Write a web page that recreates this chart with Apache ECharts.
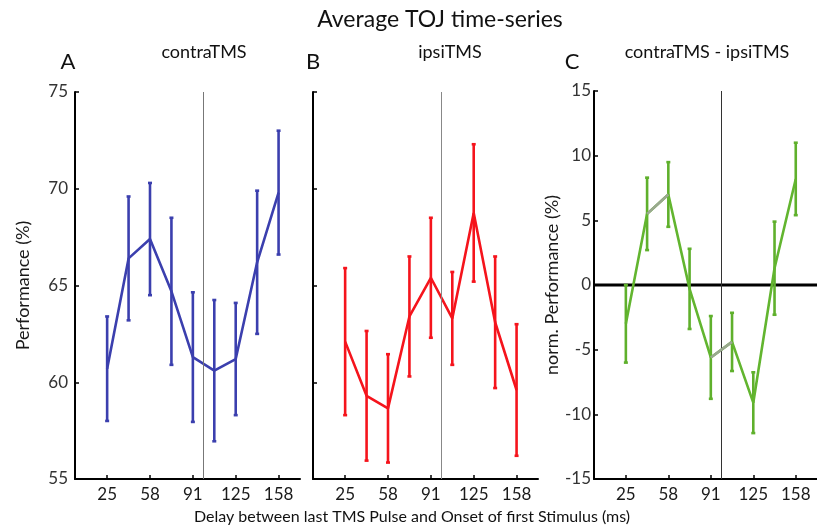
<!DOCTYPE html>
<html>
<head>
<meta charset="utf-8">
<script src="https://cdn.jsdelivr.net/npm/echarts@6/dist/echarts.min.js"></script>
<style>html,body{margin:0;padding:0;background:#fff}#c{width:817px;height:529px}</style>
</head>
<body>
<div id="c"></div>
<script>
// ---- data ----
const delays = [25, 41.67, 58.33, 75, 91.67, 108.33, 125, 141.67, 158.33];
const tickValues = [25, 58.33, 91.67, 125, 158.33];
const tickLabels = ["25", "58", "91", "125", "158"];
const contraMean = [60.7, 66.4, 67.4, 64.7, 61.3, 60.6, 61.2, 66.2, 69.8];
const contraErr  = [2.7, 3.2, 2.9, 3.8, 3.35, 3.65, 2.9, 3.7, 3.2];
const ipsiMean   = [62.1, 59.3, 58.65, 63.4, 65.4, 63.3, 68.75, 63.1, 59.6];
const ipsiErr    = [3.8, 3.35, 2.8, 3.1, 3.1, 2.4, 3.55, 3.4, 3.4];
const diffMean   = [-3.0, 5.5, 7.0, -0.3, -5.6, -4.4, -9.1, 1.3, 8.2];
const diffErr    = [3.0, 2.8, 2.5, 3.1, 3.2, 2.25, 2.35, 3.6, 2.8];
const graySegments = [[1, 2], [4, 5]]; // index pairs drawn gray in panel C
const pulseTime = 100;

const FONT = 'Lato';
const chart = echarts.init(document.getElementById('c'));

function pairs(means) { return delays.map((d, i) => [d, means[i]]); }
function errData(means, errs) { return delays.map((d, i) => [d, means[i] - errs[i], means[i] + errs[i]]); }

function errSeries(idx, means, errs, color) {
  return {
    type: 'custom', xAxisIndex: idx, yAxisIndex: idx, z: 3,
    data: errData(means, errs),
    renderItem: function (params, api) {
      const lo = api.coord([api.value(0), api.value(1)]);
      const hi = api.coord([api.value(0), api.value(2)]);
      const cw = 2;
      const st = { stroke: color, lineWidth: 2.6 };
      return { type: 'group', children: [
        { type: 'line', shape: { x1: lo[0], y1: lo[1], x2: hi[0], y2: hi[1] }, style: st },
        { type: 'line', shape: { x1: lo[0] - cw, y1: lo[1], x2: lo[0] + cw, y2: lo[1] }, style: st },
        { type: 'line', shape: { x1: hi[0] - cw, y1: hi[1], x2: hi[0] + cw, y2: hi[1] }, style: st }
      ]};
    }
  };
}

function lineSeries(idx, means, color, vlineColor) {
  return {
    type: 'line', xAxisIndex: idx, yAxisIndex: idx, z: 4,
    data: pairs(means), symbol: 'none', lineStyle: { color: color, width: 2.6 },
    markLine: { silent: true, symbol: 'none', label: { show: false },
      lineStyle: { color: vlineColor, width: 1, type: 'solid' },
      data: [{ xAxis: pulseTime }] }
  };
}

const grids = [
  { left: 75, top: 92, width: 225, height: 387 },
  { left: 313, top: 92, width: 225, height: 387 },
  { left: 594, top: 91, width: 225, height: 388 }
];

const xAxes = grids.map((g, i) => ({
  type: 'value', gridIndex: i, min: 0, max: 175,
  axisLine: { onZero: false, lineStyle: { color: '#000', width: 2 } },
  splitLine: { show: false },
  axisTick: { inside: true, length: 4, lineStyle: { color: '#000', width: 1.5 }, customValues: tickValues },
  axisLabel: { customValues: tickValues, color: '#1a1a1a', fontFamily: FONT, fontSize: 17, margin: 7,
    formatter: v => tickLabels[tickValues.findIndex(t => Math.abs(t - v) < 0.5)] }
}));

const yBase = {
  type: 'value', splitLine: { show: false },
  axisLine: { onZero: false, lineStyle: { color: '#000', width: 2 } },
  axisTick: { inside: true, length: 4, lineStyle: { color: '#000', width: 1.5 } },
  nameLocation: 'middle', nameTextStyle: { color: '#1a1a1a', fontFamily: FONT, fontSize: 18 }
};
const yAxes = [
  Object.assign({}, yBase, { gridIndex: 0, min: 55, max: 75, interval: 5, name: 'Performance (%)', nameGap: 43,
    axisLabel: { color: '#333', fontFamily: FONT, fontSize: 17, margin: 7 } }),
  Object.assign({}, yBase, { gridIndex: 1, min: 55, max: 75, interval: 5, axisLabel: { show: false } }),
  Object.assign({}, yBase, { gridIndex: 2, min: -15, max: 15, interval: 5, name: 'norm. Performance (%)', nameGap: 32,
    axisLabel: { color: '#333', fontFamily: FONT, fontSize: 17, margin: 3 } })
];

const blue = '#3b3fae', red = '#f5141c', green = '#62b52f', grayGreen = '#9aa890';

const series = [
  errSeries(0, contraMean, contraErr, blue),
  lineSeries(0, contraMean, blue, '#777'),
  errSeries(1, ipsiMean, ipsiErr, red),
  lineSeries(1, ipsiMean, red, '#888'),
  {
    type: 'line', xAxisIndex: 2, yAxisIndex: 2, z: 2, data: [[0, 0], [175, 0]], symbol: 'none',
    lineStyle: { color: '#000', width: 3 }, silent: true
  },
  errSeries(2, diffMean, diffErr, '#5fb02c'),
  lineSeries(2, diffMean, green, '#333')
];
graySegments.forEach(p => {
  series.push({ type: 'line', xAxisIndex: 2, yAxisIndex: 2, z: 5, symbol: 'none',
    data: p.map(i => [delays[i], diffMean[i]]), lineStyle: { color: grayGreen, width: 2.6 } });
});

const txt = (x, y, s, size, extra) => Object.assign({ type: 'text', x: x, y: y,
  style: { text: s, font: size + 'px ' + FONT, fill: '#111', textAlign: 'center', textVerticalAlign: 'middle' } }, extra || {});

chart.setOption({
  animation: false,
  grid: grids,
  xAxis: xAxes,
  yAxis: yAxes,
  series: series,
  graphic: [
    txt(440, 20, 'Average TOJ time-series', 23),
    txt(68, 62, 'A', 22),
    txt(204, 52, 'contraTMS', 18),
    txt(313, 62, 'B', 22),
    txt(450, 52, 'ipsiTMS', 18),
    txt(572, 62, 'C', 22),
    txt(707, 52, 'contraTMS - ipsiTMS', 18),
    txt(412, 517, 'Delay between last TMS Pulse and Onset of first Stimulus (ms)', 16)
  ]
});
</script>
</body>
</html>
